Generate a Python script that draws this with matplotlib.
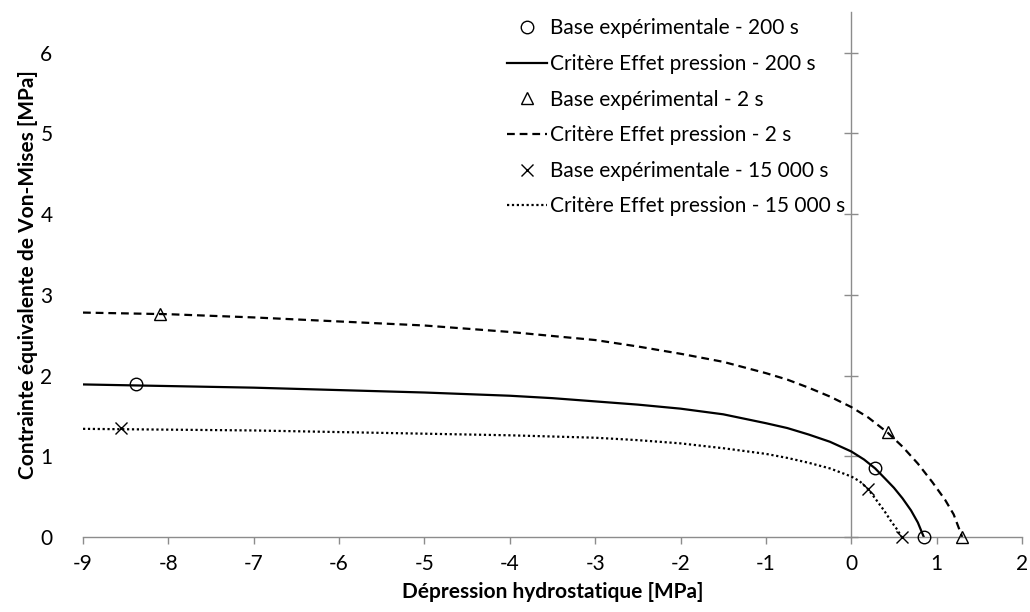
import matplotlib
matplotlib.use("Agg")
from matplotlib import pyplot as plt

plt.rcParams['font.family'] = ['Lato', 'DejaVu Sans']

# curves (pressure criterion)
x_200 = [-9, -8, -7, -6, -5, -4, -3.5, -3, -2.5, -2, -1.5, -1, -0.75, -0.5, -0.25, 0,
         0.15, 0.28, 0.4, 0.5, 0.6, 0.7, 0.78, 0.85]
y_200 = [1.89, 1.87, 1.85, 1.82, 1.79, 1.75, 1.72, 1.68, 1.64, 1.59, 1.52, 1.41, 1.35, 1.27, 1.18, 1.06,
         0.96, 0.85, 0.72, 0.61, 0.48, 0.33, 0.18, 0.0]

x_2 = [-9, -8, -7, -6, -5, -4, -3.5, -3, -2.5, -2, -1.5, -1, -0.75, -0.5, -0.25, 0,
       0.2, 0.43, 0.6, 0.78, 0.95, 1.1, 1.2, 1.30]
y_2 = [2.78, 2.76, 2.72, 2.67, 2.62, 2.54, 2.49, 2.44, 2.36, 2.27, 2.17, 2.03, 1.95, 1.85, 1.74, 1.61,
       1.48, 1.29, 1.12, 0.91, 0.68, 0.46, 0.28, 0.0]

x_15000 = [-9, -8, -7, -6, -5, -4, -3.5, -3, -2.5, -2, -1.5, -1, -0.75, -0.5, -0.25, 0,
           0.1, 0.2, 0.3, 0.39, 0.47, 0.54, 0.59]
y_15000 = [1.34, 1.33, 1.32, 1.30, 1.28, 1.26, 1.245, 1.23, 1.20, 1.16, 1.10, 1.03, 0.98, 0.92, 0.85, 0.75,
           0.69, 0.59, 0.45, 0.32, 0.19, 0.09, 0.0]

# experimental points
exp_x_200 = [-8.38, 0.28, 0.85]
exp_y_200 = [1.89, 0.85, 0.0]
exp_x_2 = [-8.1, 0.43, 1.30]
exp_y_2 = [2.76, 1.30, 0.0]
exp_x_15000 = [-8.55, 0.20, 0.59]
exp_y_15000 = [1.35, 0.59, 0.0]

x_ticks = list(range(-9, 3))
y_ticks = list(range(0, 7))

grey = "#8c8c8c"
fs = 15

fig = plt.figure(figsize=(10.30, 6.12), dpi=100)
ax = fig.add_axes([0.0806, 0.1225, 0.9116, 0.8575])

ax.plot(exp_x_200, exp_y_200, "o", ms=9, mfc="none", mec="black", mew=1.0,
        label="Base expérimentale - 200 s", clip_on=False, zorder=4)
ax.plot(x_200, y_200, "-", color="black", lw=1.6, label="Critère Effet pression - 200 s")
ax.plot(exp_x_2, exp_y_2, "^", ms=8, mfc="none", mec="black", mew=1.0,
        label="Base expérimental - 2 s", clip_on=False, zorder=4)
ax.plot(x_2, y_2, color="black", lw=1.6, linestyle=(0, (3.5, 2.2)), label="Critère Effet pression - 2 s")
ax.plot(exp_x_15000, exp_y_15000, "x", ms=8, color="black", mew=1.0,
        label="Base expérimentale - 15 000 s", clip_on=False, zorder=4)
ax.plot(x_15000, y_15000, color="black", lw=1.6, linestyle=(0, (1, 1.2)),
        label="Critère Effet pression - 15 000 s")

ax.set_xlim(-9, 2)
ax.set_ylim(0, 6.5)
ax.set_xticks(x_ticks)
ax.set_xticklabels([str(v) for v in x_ticks])
ax.set_yticks(y_ticks)
ax.set_yticklabels([str(v) for v in y_ticks])

for s in ["top", "right", "left"]:
    ax.spines[s].set_visible(False)
ax.spines["bottom"].set_color(grey)
ax.spines["bottom"].set_linewidth(1.0)

ax.tick_params(axis="x", direction="out", length=5, width=1.0, color=grey, labelsize=fs, pad=7)
ax.tick_params(axis="y", length=0, labelsize=fs, pad=22)

# vertical axis crossing at x = 0
sec = ax.secondary_yaxis(9 / 11)
for s in sec.spines.values():
    s.set_color(grey)
    s.set_linewidth(1.0)
sec.set_yticks(y_ticks)
sec.tick_params(axis="y", which="both", direction="inout", length=10, width=1.0, color=grey,
                labelleft=False, labelright=False)

ax.set_xlabel("Dépression hydrostatique [MPa]", fontsize=fs, fontweight="bold", labelpad=6)
ax.set_ylabel("Contrainte équivalente de Von-Mises [MPa]", fontsize=fs, fontweight="bold", labelpad=2)

ax.legend(loc="upper left", bbox_to_anchor=(499 / 1030, 1 - 10 / 612), bbox_transform=fig.transFigure,
          borderaxespad=0, frameon=False, fontsize=fs,
          handlelength=1.9, handletextpad=0.15, labelspacing=0.75)

fig.savefig("out.png", dpi=100)
